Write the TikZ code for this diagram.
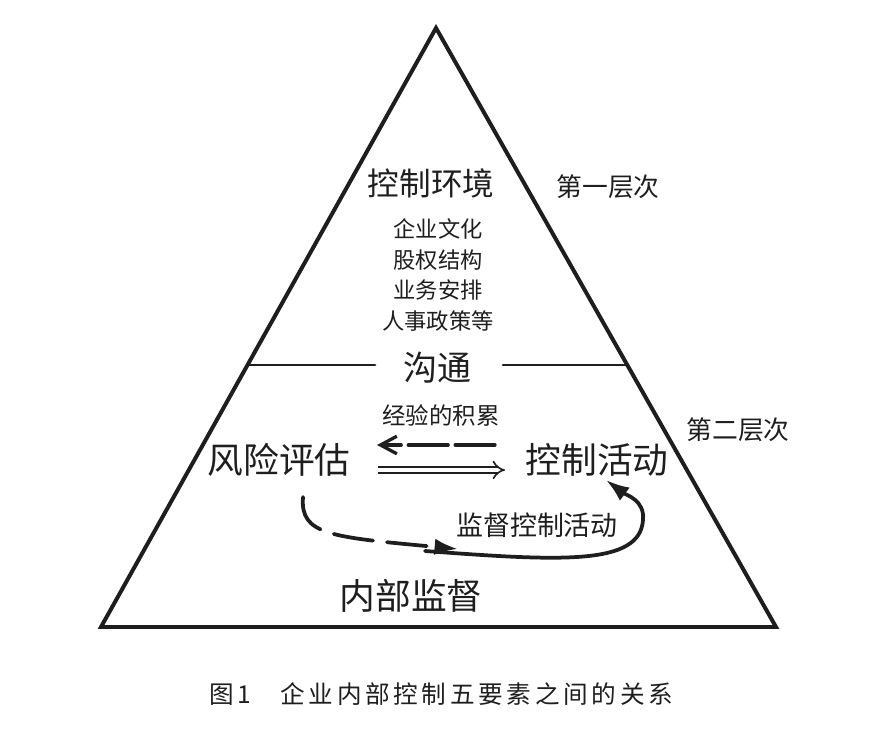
\documentclass[tikz,border=0pt]{standalone}
\usepackage{fontspec}
\setmainfont{Noto Sans CJK SC}
\newfontfamily\capfont[LetterSpace=15]{Noto Sans CJK SC}
\usetikzlibrary{arrows.meta}
\definecolor{ink}{RGB}{30,30,30}

\begin{document}
\begin{tikzpicture}[x=0.03cm,y=-0.03cm,line cap=round,
  lbl/.style={inner sep=0pt,text=ink},
  rim/.style={ink,line width=3.4pt,line join=miter},
  flow/.style={ink,line width=3.2pt,-{Latex[length=20pt,width=14pt]}}]
  \useasboundingbox (0,0) rectangle (893,731);
  % pyramid
  \coordinate (top) at (436,28);
  \coordinate (bl) at (101,627);
  \coordinate (br) at (776,627);
  \draw[rim] (top) -- (bl) -- (br) -- cycle;
  % first level
  \node[lbl,font=\fontsize{27}{30}\selectfont] (env) at (431,183) {控制环境};
  \node[lbl,font=\fontsize{22}{26}\selectfont] (lv1) at (608,187) {第一层次};
  \node[lbl,font=\fontsize{19}{22}\selectfont,align=center] (items) at (438,275)
    {企业文化\\[4pt]股权结构\\[4pt]业务安排\\[4pt]人事政策等};
  % divider
  \node[lbl,font=\fontsize{29}{32}\selectfont] (comm) at (437,368) {沟通};
  \coordinate (dl1) at (249,365);
  \coordinate (dl2) at (375,365);
  \coordinate (dr1) at (503,365);
  \coordinate (dr2) at (626,365);
  \draw[ink,line width=2.4pt] (dl1) -- (dl2);
  \draw[ink,line width=2.4pt] (dr1) -- (dr2);
  % second level
  \node[lbl,font=\fontsize{20}{24}\selectfont] (exp) at (441,416) {经验的积累};
  \node[lbl,font=\fontsize{22}{26}\selectfont] (lv2) at (738,430) {第二层次};
  \node[lbl,font=\fontsize{30.5}{34}\selectfont] (risk) at (279,460) {风险评估};
  \node[lbl,font=\fontsize{30.5}{34}\selectfont] (act) at (597,460) {控制活动};
  \node[lbl,font=\fontsize{23}{26}\selectfont] (mon) at (537,525) {监督控制活动};
  \node[lbl,font=\fontsize{30.5}{34}\selectfont] (sup) at (411,596) {内部监督};
  % arrows between risk and activity
  \coordinate (a1) at (495,445);
  \coordinate (a2) at (377,445);
  \coordinate (b1) at (378,470);
  \coordinate (b2) at (505,470);
  \draw[ink,line width=2.8pt,dash pattern=on 34pt off 6pt,-{Straight Barb[length=14pt,width=15pt]}] (a1) -- (a2);
  \draw[ink,line width=1.4pt,double=white,double distance=4pt,line cap=butt,-{Implies[length=7pt,width=13pt]}] (b1) -- (b2);
  % monitoring loop
  \coordinate (c1) at (303,497);
  \coordinate (c2) at (458,549);
  \coordinate (c3) at (425,551);
  \coordinate (c4) at (643,520);
  \coordinate (c5) at (606,480);
  \draw[flow,dash pattern=on 34pt off 12pt] (c1) .. controls (300,535) and (330,537) .. (c2);
  \draw[flow] (c3) .. controls (560,561) and (640,566) .. (c4) .. controls (645,500) and (626,495) .. (c5);
  % caption
  \node[lbl,font=\capfont\fontsize{21}{24}\selectfont] (cap) at (441,694) {图1\hspace{1.2em}企业内部控制五要素之间的关系};
\end{tikzpicture}
\end{document}
